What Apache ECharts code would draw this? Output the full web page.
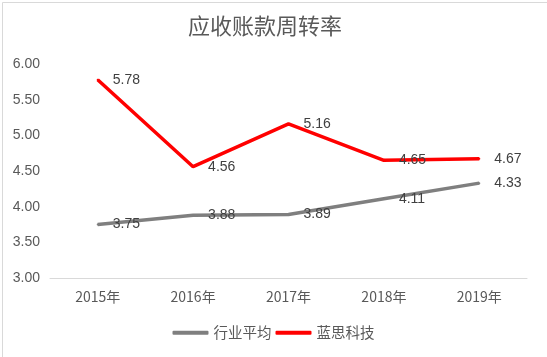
<!DOCTYPE html>
<html><head><meta charset="utf-8">
<script src="https://cdn.jsdelivr.net/npm/echarts@6/dist/echarts.min.js"></script>
<style>html,body{margin:0;padding:0;background:#fff}#c{width:547px;height:357px}</style>
</head><body><div id="c"></div>
<script>
const categories = ['2015年','2016年','2017年','2018年','2019年'];
const industryAvg = [3.75, 3.88, 3.89, 4.11, 4.33];
const lensTech = [5.78, 4.56, 5.16, 4.65, 4.67];
const seriesNames = ['行业平均','蓝思科技'];
const FONT = '"Noto Sans CJK SC", "Noto Sans", sans-serif';
const NUMFONT = '"Liberation Sans", "Noto Sans", sans-serif';
const chart = echarts.init(document.getElementById('c'));
const lbl = {show:true, position:'right', distance:14, color:'#404040', fontSize:14, fontFamily:NUMFONT, formatter:p=>Number(p.value).toFixed(2)};
chart.setOption({
  animation:false,
  backgroundColor:'#fff',
  graphic:[{type:'rect', left:0, top:0, shape:{x:0.5,y:0.5,width:545,height:355}, style:{fill:'none', stroke:'#d9d9d9', lineWidth:1}, silent:true}],
  title:{text:'应收账款周转率', left:183, top:10, textStyle:{fontSize:22, fontWeight:'normal', color:'#595959', fontFamily:FONT}},
  legend:{bottom:12, left:'center', itemGap:4, itemWidth:36, itemHeight:4, icon:'roundRect', textStyle:{fontSize:14.5, color:'#595959', fontFamily:FONT}, data:seriesNames},
  grid:{left:50, right:20, top:64, bottom:79},
  xAxis:{type:'category', data:categories, boundaryGap:true, axisLine:{lineStyle:{color:'#d9d9d9'}}, axisTick:{show:false}, axisLabel:{color:'#595959', fontSize:14, margin:12, fontFamily:FONT}},
  yAxis:{type:'value', min:3, max:6, interval:0.5, splitLine:{show:false}, axisLine:{show:false}, axisTick:{show:false}, axisLabel:{color:'#595959', fontSize:14, margin:10, fontFamily:NUMFONT, formatter:v=>v.toFixed(2)}},
  series:[
    {name:seriesNames[0], type:'line', data:industryAvg, symbol:'circle', symbolSize:2, showSymbol:true, color:'#7f7f7f', itemStyle:{color:'#7f7f7f'}, lineStyle:{width:3.5, color:'#7f7f7f'}, label:lbl},
    {name:seriesNames[1], type:'line', data:lensTech, symbol:'circle', symbolSize:2, showSymbol:true, color:'#ff0000', itemStyle:{color:'#ff0000'}, lineStyle:{width:3.5, color:'#ff0000'}, label:lbl}
  ]
});
</script></body></html>
